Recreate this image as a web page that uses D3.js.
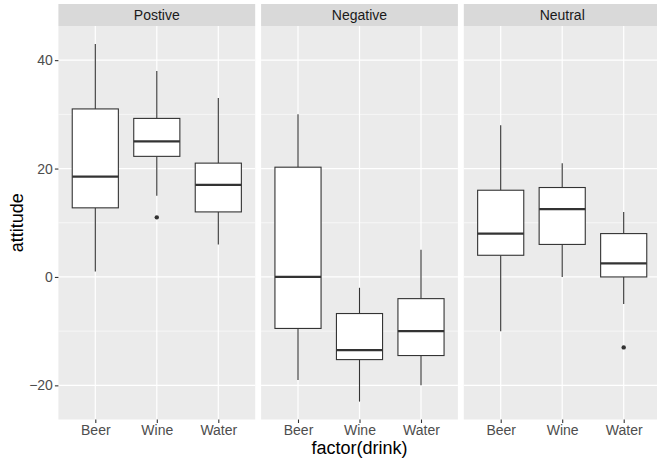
<!DOCTYPE html>
<html>
<head>
<meta charset="utf-8">
<script src="https://cdn.jsdelivr.net/npm/d3@7"></script>
<style>
  html, body { margin: 0; padding: 0; background: #fff; }
  svg { display: block; font-family: "Liberation Sans", Arial, sans-serif; }
</style>
</head>
<body>
<svg id="chart" width="657" height="458"></svg>
<script>
// Facets and drink categories
const facets = ["Postive", "Negative", "Neutral"];
const drinks = ["Beer", "Wine", "Water"];

// Box statistics per facet, ordered Beer, Wine, Water
const lowerWhisker = [
  [1, 15, 6],
  [-19, -23, -20],
  [-10, 0, -5]
];
const q1 = [
  [12.75, 22.25, 12],
  [-9.5, -15.25, -14.5],
  [4, 6, 0]
];
const median = [
  [18.5, 25, 17],
  [0, -13.5, -10],
  [8, 12.5, 2.5]
];
const q3 = [
  [31, 29.25, 21],
  [20.25, -6.75, -4],
  [16, 16.5, 8]
];
const upperWhisker = [
  [43, 38, 33],
  [30, -2, 5],
  [28, 21, 12]
];
// Outlying points: [facet index, drink index, value]
const outliers = [
  [0, 1, 11],
  [2, 2, -13]
];

const yTicks = [-20, 0, 20, 40];
const yMinor = [-10, 10, 30];

const svg = d3.select("#chart");

const panelTop = 26, panelBottom = 419.5;
const stripTop = 4;
const panelLeft = 58.4, panelWidth = 196.8, panelGap = 5.9;

// Shared y scale with 5% expansion around the data range
const dataMin = -23, dataMax = 43;
const pad = (dataMax - dataMin) * 0.05;
const y = d3.scaleLinear()
  .domain([dataMin - pad, dataMax + pad])
  .range([panelBottom, panelTop]);

// Discrete x scale with 0.6 expansion on each side
const xBand = d3.scalePoint().domain(drinks).range([0.6, 2.6]);

facets.forEach((facet, fi) => {
  const x0 = panelLeft + fi * (panelWidth + panelGap);
  const unit = panelWidth / 3.2;
  const x = d3.scalePoint().domain(drinks)
    .range([x0 + 0.6 * unit, x0 + 2.6 * unit]);

  const g = svg.append("g");

  // panel background
  g.append("rect")
    .attr("x", x0).attr("y", panelTop)
    .attr("width", panelWidth).attr("height", panelBottom - panelTop)
    .attr("fill", "#EBEBEB");

  // minor grid
  g.selectAll(".minor").data(yMinor).join("line")
    .attr("x1", x0).attr("x2", x0 + panelWidth)
    .attr("y1", d => y(d)).attr("y2", d => y(d))
    .attr("stroke", "#fff").attr("stroke-width", 0.6);

  // major grid
  g.selectAll(".major").data(yTicks).join("line")
    .attr("x1", x0).attr("x2", x0 + panelWidth)
    .attr("y1", d => y(d)).attr("y2", d => y(d))
    .attr("stroke", "#fff").attr("stroke-width", 1.2);
  g.selectAll(".vmajor").data(drinks).join("line")
    .attr("x1", d => x(d)).attr("x2", d => x(d))
    .attr("y1", panelTop).attr("y2", panelBottom)
    .attr("stroke", "#fff").attr("stroke-width", 1.2);

  // strip
  g.append("rect")
    .attr("x", x0).attr("y", stripTop)
    .attr("width", panelWidth).attr("height", panelTop - stripTop)
    .attr("fill", "#D9D9D9");
  g.append("text")
    .attr("x", x0 + panelWidth / 2).attr("y", (stripTop + panelTop) / 2)
    .attr("dy", "0.35em")
    .attr("text-anchor", "middle")
    .attr("font-size", 14).attr("fill", "#1A1A1A")
    .text(facet);

  const boxW = 0.75 * unit;

  drinks.forEach((drink, di) => {
    const cx = x(drink);
    // whiskers
    g.append("line")
      .attr("x1", cx).attr("x2", cx)
      .attr("y1", y(upperWhisker[fi][di])).attr("y2", y(q3[fi][di]))
      .attr("stroke", "#333").attr("stroke-width", 1.1);
    g.append("line")
      .attr("x1", cx).attr("x2", cx)
      .attr("y1", y(q1[fi][di])).attr("y2", y(lowerWhisker[fi][di]))
      .attr("stroke", "#333").attr("stroke-width", 1.1);
    // box
    g.append("rect")
      .attr("x", cx - boxW / 2).attr("y", y(q3[fi][di]))
      .attr("width", boxW).attr("height", y(q1[fi][di]) - y(q3[fi][di]))
      .attr("fill", "#fff").attr("stroke", "#333").attr("stroke-width", 1.1);
    // median
    g.append("line")
      .attr("x1", cx - boxW / 2).attr("x2", cx + boxW / 2)
      .attr("y1", y(median[fi][di])).attr("y2", y(median[fi][di]))
      .attr("stroke", "#333").attr("stroke-width", 2.2);
  });

  // outliers
  g.selectAll(".out").data(outliers.filter(o => o[0] === fi)).join("circle")
    .attr("cx", d => x(drinks[d[1]])).attr("cy", d => y(d[2]))
    .attr("r", 2.2).attr("fill", "#333");

  // x axis ticks and labels
  const xAxis = d3.axisBottom(x).tickSize(3.5).tickPadding(2.5);
  const ax = svg.append("g")
    .attr("transform", `translate(0,${panelBottom})`)
    .call(xAxis);
  ax.select(".domain").remove();
  ax.selectAll(".tick line").attr("stroke", "#333").attr("stroke-width", 1.1);
  ax.selectAll(".tick text")
    .attr("font-size", 14).attr("fill", "#4D4D4D")
    .attr("font-family", "Liberation Sans, Arial, sans-serif");
});

// y axis
const yAxis = d3.axisLeft(y).tickValues(yTicks).tickSize(3.5).tickPadding(2)
  .tickFormat(d => d < 0 ? "\u2212" + Math.abs(d) : d);
const ay = svg.append("g")
  .attr("transform", `translate(${panelLeft},0)`)
  .call(yAxis);
ay.select(".domain").remove();
ay.selectAll(".tick line").attr("stroke", "#333").attr("stroke-width", 1.1);
ay.selectAll(".tick text")
  .attr("font-size", 14).attr("fill", "#4D4D4D")
  .attr("font-family", "Liberation Sans, Arial, sans-serif");

// axis titles
svg.append("text")
  .attr("x", (panelLeft + panelLeft + 3 * panelWidth + 2 * panelGap) / 2)
  .attr("y", 454)
  .attr("text-anchor", "middle")
  .attr("font-size", 18).attr("fill", "#000")
  .text("factor(drink)");

svg.append("text")
  .attr("transform", `translate(23,${(panelTop + panelBottom) / 2}) rotate(-90)`)
  .attr("text-anchor", "middle")
  .attr("font-size", 18).attr("fill", "#000")
  .text("attitude");
</script>
</body>
</html>
